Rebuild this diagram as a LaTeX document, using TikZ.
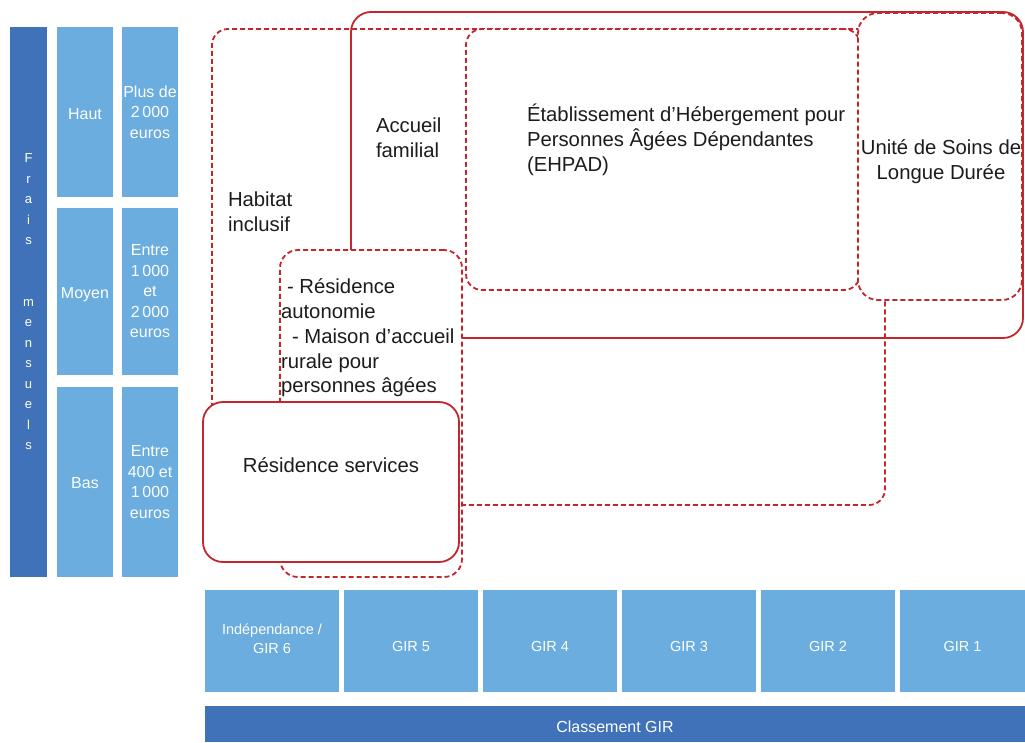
\documentclass[tikz,border=0pt]{standalone}
\usepackage{fontspec}
\setmainfont{Liberation Sans}
\usetikzlibrary{calc}
\definecolor{cellblue}{HTML}{6AADDE}
\definecolor{bandblue}{HTML}{3F72B8}
\definecolor{zonered}{HTML}{C4262E}
\definecolor{ink}{HTML}{1C1C1C}
\newcommand{\lowered}[2]{\raisebox{#1}[\height][\depth]{#2}}

\begin{document}
\begin{tikzpicture}[x=1pt,y=-1pt,every node/.style={inner sep=0pt,outer sep=0pt},
    cell/.style={fill=cellblue,text=white,anchor=north west,align=center,font=\fontsize{16}{20.5}\selectfont},
    gir/.style={cell,minimum width=134,minimum height=102,font=\fontsize{14.5}{20}\selectfont},
    band/.style={fill=bandblue,text=white,anchor=north west,align=center,font=\fontsize{16}{20.5}\selectfont},
    zone/.style={draw=zonered,line width=1.8pt,rounded corners=16pt,anchor=north west},
    dzone/.style={zone,dash pattern=on 5pt off 3pt},
    blank/.style={fill=white},
    label/.style={text=ink,font=\fontsize{20.3}{24.8}\selectfont,align=left}]
      \useasboundingbox (0,0) rectangle (1025,742);

      % left side: monthly costs
      \node[band,minimum width=37,minimum height=550,font=\fontsize{13}{20.5}\selectfont] (frais) at (10,27) {F\\r\\a\\i\\s\\[41pt]m\\e\\n\\s\\u\\e\\l\\s};
      \node[cell,minimum width=56,minimum height=170] (haut) at (57,27) {\lowered{-2pt}{Haut}};
      \node[cell,minimum width=56,minimum height=167] (moyen) at ($ (haut.south west) + (0,11) $) {\lowered{-3pt}{Moyen}};
      \node[cell,minimum width=56,minimum height=190] (bas) at ($ (moyen.south west) + (0,12) $) {\lowered{-1pt}{Bas}};
      \node[cell,minimum width=56,minimum height=170] (plus) at ($ (haut.north east) + (9,0) $) {Plus de\\2\,000\\euros};
      \node[cell,minimum width=56,minimum height=167] (entre haut) at ($ (moyen.north east) + (9,0) $) {Entre\\1\,000\\et\\2\,000\\euros};
      \node[cell,minimum width=56,minimum height=190] (entre bas) at ($ (bas.north east) + (9,0) $) {Entre\\400 et\\1\,000\\euros};

      % bottom: GIR classes
      \node[gir] (gir6) at (205,590) {\lowered{2pt}{\shortstack{Indépendance /\\[3pt]GIR 6}}};
      \node[gir] (gir5) at ($ (gir6.north east) + (5,0) $) {\lowered{-5pt}{GIR 5}};
      \node[gir] (gir4) at ($ (gir5.north east) + (5,0) $) {\lowered{-5pt}{GIR 4}};
      \node[gir] (gir3) at ($ (gir4.north east) + (5,0) $) {\lowered{-5pt}{GIR 3}};
      \node[gir] (gir2) at ($ (gir3.north east) + (5,0) $) {\lowered{-5pt}{GIR 2}};
      \node[gir,minimum width=125] (gir1) at ($ (gir2.north east) + (5,0) $) {\lowered{-5pt}{GIR 1}};
      \node[band,minimum width=820,minimum height=36] (classement) at ($ (gir6.south west) + (0,14) $) {\lowered{-3pt}{Classement GIR}};

      % zones
      \node[dzone,minimum width=673,minimum height=476] (habitat) at (212,29) {};
      \node[dzone,blank,minimum width=394,minimum height=261] (ehpad) at (466,29) {};
      \node[dzone,blank,minimum width=164,minimum height=287,rounded corners=20pt] (usld) at (858,13) {};
      \node[zone,minimum width=672,minimum height=326,rounded corners=20pt] (accueil) at (351,12) {};
      \node[dzone,blank,minimum width=182,minimum height=327,rounded corners=18pt] (autonomie) at (280,250) {};
      \node[zone,blank,minimum width=256,minimum height=160,rounded corners=20pt] (services) at (203,402) {};

      \node[label,anchor=west] (habitat text) at ($ (habitat.north west) + (16,183) $) {Habitat\\inclusif};
      \node[label,anchor=west] (accueil text) at ($ (accueil.north west) + (25,126) $) {Accueil\\familial};
      \node[label,anchor=west] (ehpad text) at ($ (ehpad.north west) + (61,111) $) {Établissement d’Hébergement pour\\Personnes Âgées Dépendantes\\(EHPAD)};
      \node[label,align=center] (usld text) at ($ (usld.north west) + (83,149) $) {Unité de Soins de\\Longue Durée};
      \node[label,anchor=west] (autonomie text) at ($ (autonomie.north west) + (1,88) $) {\hspace{6pt}- Résidence\\autonomie\\\hspace{11pt}- Maison d’accueil\\rurale pour\\personnes âgées};
      \node[label] (services text) at ($ (services.north west) + (128,63) $) {Résidence services};
    \end{tikzpicture}
\end{document}
